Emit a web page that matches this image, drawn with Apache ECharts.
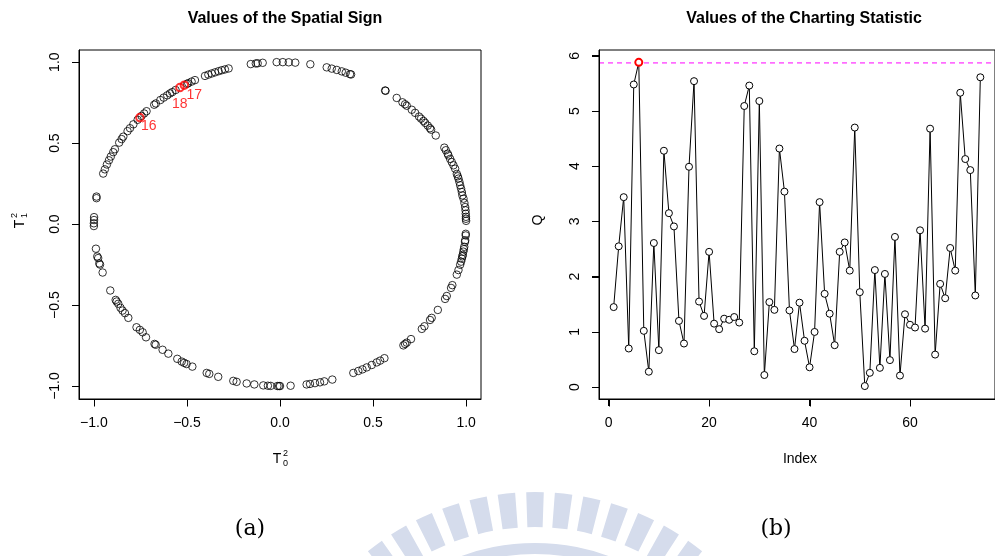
<!DOCTYPE html>
<html>
<head>
<meta charset="utf-8">
<script src="https://cdn.jsdelivr.net/npm/echarts@6/dist/echarts.min.js"></script>
<style>
html,body{margin:0;padding:0;background:#fff;}
#c{width:995px;height:556px;}
</style>
</head>
<body>
<div id="c"></div>
<script>
// ---- Panel (a): spatial sign values ----
const signX = [-0.986,-0.986,-0.999,-0.999,-1.0,-1.0,-0.989,-0.982,-0.977,-0.971,-0.967,-0.953,-0.912,-0.883,-0.878,-0.869,-0.857,-0.846,-0.833,-0.815,-0.771,-0.753,-0.738,-0.72,-0.674,-0.668,-0.631,-0.6,-0.552,-0.528,-0.515,-0.502,-0.471,-0.394,-0.38,-0.332,-0.251,-0.233,-0.179,-0.138,-0.09,-0.065,-0.05,-0.014,-0.005,0.0,0.057,0.143,0.161,0.188,0.215,0.238,0.281,0.394,0.421,0.443,0.466,0.493,0.52,0.538,0.561,0.663,0.672,0.681,0.704,0.762,0.776,0.806,0.815,0.848,0.887,0.896,0.919,0.926,0.95,0.959,0.968,0.973,0.977,0.98,0.982,0.985,0.988,0.99,0.994,0.995,0.998,0.998,1.0,0.998,0.999,0.999,0.883,0.891,0.901,0.905,0.914,0.923,0.932,0.941,0.95,0.955,0.959,0.964,0.968,0.973,0.977,0.98,0.986,0.991,0.995,0.997,0.627,0.658,0.672,0.681,0.708,0.726,0.747,0.758,0.771,0.78,0.794,0.806,0.812,0.837,0.565,0.567,0.251,0.278,0.305,0.332,0.353,0.376,0.382,0.163,-0.018,0.015,0.047,0.082,-0.157,-0.13,-0.12,-0.093,-0.276,-0.296,-0.313,-0.33,-0.349,-0.367,-0.385,-0.403,-0.457,-0.475,-0.493,-0.5,-0.561,-0.579,-0.591,-0.606,-0.625,-0.643,-0.667,-0.676,-0.717,-0.73,-0.744,-0.765,-0.788,-0.806,-0.819,-0.842,-0.851,-0.864,-0.887,-0.896,-0.909,-0.919,-0.93,-0.941,-0.95];
const signY = [0.17,0.16,0.043,0.025,0.005,-0.012,-0.152,-0.2,-0.21,-0.243,-0.25,-0.299,-0.41,-0.468,-0.478,-0.492,-0.517,-0.534,-0.55,-0.579,-0.637,-0.653,-0.668,-0.699,-0.74,-0.745,-0.776,-0.8,-0.832,-0.849,-0.857,-0.864,-0.88,-0.919,-0.925,-0.943,-0.968,-0.974,-0.984,-0.99,-0.996,-0.998,-0.999,-1.0,-1.0,-1.0,-0.998,-0.99,-0.987,-0.982,-0.977,-0.971,-0.96,-0.919,-0.907,-0.897,-0.885,-0.87,-0.854,-0.843,-0.828,-0.749,-0.74,-0.732,-0.71,-0.647,-0.631,-0.592,-0.579,-0.53,-0.462,-0.444,-0.394,-0.377,-0.312,-0.284,-0.251,-0.232,-0.214,-0.199,-0.19,-0.17,-0.155,-0.14,-0.11,-0.1,-0.07,-0.06,0.02,0.064,0.045,0.033,0.472,0.456,0.435,0.424,0.403,0.383,0.363,0.342,0.31,0.295,0.281,0.26,0.24,0.219,0.198,0.177,0.157,0.13,0.105,0.085,0.779,0.752,0.74,0.731,0.706,0.687,0.664,0.651,0.637,0.625,0.608,0.592,0.583,0.547,0.825,0.823,0.968,0.96,0.952,0.943,0.935,0.926,0.924,0.987,1.0,1.0,0.999,0.997,0.988,0.992,0.993,0.996,0.961,0.955,0.95,0.944,0.937,0.93,0.923,0.915,0.889,0.88,0.87,0.866,0.828,0.815,0.807,0.795,0.781,0.766,0.745,0.737,0.697,0.683,0.668,0.644,0.616,0.592,0.574,0.54,0.525,0.503,0.462,0.444,0.417,0.394,0.368,0.338,0.312];
// highlighted observations
const flaggedLabels = ['16','17','18'];
const flaggedX = [-0.753,-0.514,-0.538];
const flaggedY = [0.658,0.858,0.843];

const xTicksA = [-1.0,-0.5,0.0,0.5,1.0];
const yTicksA = [-1.0,-0.5,0.0,0.5,1.0];

// ---- Panel (b): charting statistic ----
const qValues = [1.45,2.55,3.44,0.70,5.48,5.88,1.02,0.28,2.61,0.67,4.28,3.15,2.91,1.20,0.79,3.99,5.54,1.55,1.29,2.45,1.15,1.05,1.24,1.22,1.27,1.17,5.09,5.46,0.65,5.18,0.22,1.54,1.40,4.32,3.54,1.39,0.69,1.53,0.84,0.36,1.00,3.35,1.69,1.33,0.76,2.45,2.62,2.11,4.70,1.72,0.02,0.26,2.12,0.35,2.05,0.49,2.72,0.21,1.32,1.13,1.08,2.84,1.06,4.68,0.59,1.87,1.61,2.52,2.11,5.33,4.13,3.93,1.66,5.61];
const controlLimit = 5.87;
const alarmIndex = 6;
const xTicksB = [0,20,40,60];
const yTicksB = [0,1,2,3,4,5,6];

// axis extents (R-style 4% padding)
const xRangeA = [-1.08, 1.08], yRangeA = [-1.08, 1.075];
const xRangeB = [-1.92, 76.92], yRangeB = [-0.214, 6.104];

const font = 'Liberation Sans, Arial, Helvetica, sans-serif';
function fmtA(v){ const n = Number(v); return isFinite(n) ? n.toFixed(1).replace('-', '\u2212') : String(v); }
function fmtB(v){ return String(v); }

const chart = echarts.init(document.getElementById('c'), null, {renderer:'canvas'});

const scatterData = signX.map((x,i)=>[x, signY[i]]);
const flaggedData = flaggedX.map((x,i)=>({value:[x, flaggedY[i]], name: flaggedLabels[i]}));
const labelOffsets = [[9,9],[10,10],[0,17]];
const lineData = qValues.map((v,i)=>{
  const idx = i+1;
  if (idx === alarmIndex) return {value:[idx,v], itemStyle:{borderColor:'#ff0000', borderWidth:2}};
  return [idx, v];
});
const limitData = [[xRangeB[0], controlLimit], [xRangeB[1], controlLimit]];

function makeXAxis(gi, r, ticks, fmt){
  return {type:'value', gridIndex:gi, min:r[0], max:r[1], splitLine:{show:false}, zlevel:1, z:50,
    axisLine:{show:true, onZero:false, lineStyle:{color:'#000'}},
    axisTick:{show:true, customValues:ticks.slice(), length:7, lineStyle:{color:'#000'}},
    axisLabel:{margin:17, customValues:ticks.slice(), formatter:fmt, color:'#000', fontFamily:font, fontSize:14}};
}
function makeYAxis(gi, r, ticks, fmt){
  return {type:'value', gridIndex:gi, min:r[0], max:r[1], splitLine:{show:false}, zlevel:1, z:50,
    axisLine:{show:true, onZero:false, lineStyle:{color:'#000'}},
    axisTick:{show:true, customValues:ticks.slice(), length:7, lineStyle:{color:'#000'}},
    axisLabel:{margin:17, rotate:90, customValues:ticks.slice(), formatter:fmt, color:'#000', fontFamily:font, fontSize:14}};
}

const option = {
  animation:false,
  title:[
    {text:'Values of the Spatial Sign', left:280, top:6, textAlign:'center', textStyle:{fontFamily:font, fontSize:16, fontWeight:'bold', color:'#000'}},
    {text:'Values of the Charting Statistic', left:799, top:6, textAlign:'center', textStyle:{fontFamily:font, fontSize:16, fontWeight:'bold', color:'#000'}}
  ],
  grid:[
    {left:79, top:50, width:402, height:349, show:true, borderColor:'#000', borderWidth:1},
    {left:599, top:50, width:401, height:349, show:true, borderColor:'#000', borderWidth:1}
  ],
  xAxis:[
    makeXAxis(0, xRangeA, xTicksA, fmtA),
    makeXAxis(1, xRangeB, xTicksB, fmtB)
  ],
  yAxis:[
    makeYAxis(0, yRangeA, yTicksA, fmtA),
    makeYAxis(1, yRangeB, yTicksB, fmtB)
  ],
  series:[
    {type:'scatter', xAxisIndex:0, yAxisIndex:0, data:scatterData, symbol:'circle', symbolSize:7.5,
     itemStyle:{color:'rgba(0,0,0,0)', borderColor:'#000', borderWidth:1}, silent:true},
    {type:'scatter', xAxisIndex:0, yAxisIndex:0, data:flaggedData.map((d,i)=>Object.assign({}, d, {label:{show:true, formatter:d.name, position:'inside', offset:labelOffsets[i], color:'#ff0000', fontFamily:font, fontSize:14}})),
     symbol:'circle', symbolSize:7.5, itemStyle:{color:'rgba(0,0,0,0)', borderColor:'#ff0000', borderWidth:2}, silent:true, z:5},
    {type:'line', xAxisIndex:1, yAxisIndex:1, data:limitData, symbol:'none', silent:true, z:1,
     lineStyle:{color:'#ff00ff', type:[5,4], width:1}},
    {type:'line', xAxisIndex:1, yAxisIndex:1, data:lineData, symbol:'circle', symbolSize:7, showAllSymbol:true,
     itemStyle:{color:'#fff', borderColor:'#000', borderWidth:1}, lineStyle:{color:'#000', width:1}, silent:true, z:3}
  ]
};
chart.setOption(option);

// ---- decorations, axis titles, captions ----
function axisTitle(id, x, y, rot, main, sup, sub){
  const children = [{type:'text', x:0, y:0, style:{text:main, font:'14px '+font, fill:'#000', align:'center', verticalAlign:'middle'}}];
  if (sup) children.push({type:'text', x:6, y:-5, style:{text:sup, font:'9px '+font, fill:'#000', align:'left', verticalAlign:'middle'}});
  if (sub) children.push({type:'text', x:6, y:5, style:{text:sub, font:'9px '+font, fill:'#000', align:'left', verticalAlign:'middle'}});
  return {type:'group', id:id, x:x, y:y, rotation:rot, children:children};
}
const graphics = [];
const wcx = 535, wcy = 757;
const step = 6.2*Math.PI/180, half = 1.9*Math.PI/180;
for (let k=-9;k<=9;k++){
  const a = -Math.PI/2 + k*step;
  graphics.push({type:'sector', id:'wm'+(k+9), silent:true, z:-10, shape:{cx:wcx, cy:wcy, r0:230, r:265, startAngle:a-half, endAngle:a+half}, style:{fill:'#d5dcec'}});
}
graphics.push({type:'sector', id:'wmring', silent:true, z:-10, shape:{cx:wcx, cy:wcy, r0:203, r:214, startAngle:-Math.PI, endAngle:0}, style:{fill:'#d5dcec'}});
graphics.push(axisTitle('ylabA', 20, 224, Math.PI/2, 'T', '2', '1'));
graphics.push(axisTitle('xlabA', 277, 459, 0, 'T', '2', '0'));
graphics.push({type:'text', id:'ylabB', x:538, y:220, rotation:Math.PI/2, style:{text:'Q', font:'14px '+font, fill:'#000', align:'center', verticalAlign:'middle'}});
graphics.push({type:'text', id:'xlabB', x:800, y:459, style:{text:'Index', font:'14px '+font, fill:'#000', align:'center', verticalAlign:'middle'}});
graphics.push({type:'text', id:'capA', x:250, y:529, style:{text:'(a)', font:'22px "DejaVu Serif", "Liberation Serif", serif', fill:'#000', align:'center', verticalAlign:'middle'}});
graphics.push({type:'text', id:'capB', x:776, y:529, style:{text:'(b)', font:'22px "DejaVu Serif", "Liberation Serif", serif', fill:'#000', align:'center', verticalAlign:'middle'}});

// outward tick marks positioned through the axes' own scales, on a top layer
function okPt(p){ return p && isFinite(p[0]) && isFinite(p[1]); }
function tickPoint(gi, pt){
  let p = null;
  try { p = chart.convertToPixel({gridIndex:gi}, pt); } catch(e) { p = null; }
  if (!okPt(p)) {
    try { p = chart.convertToPixel({xAxisIndex:gi, yAxisIndex:gi}, pt); } catch(e) { p = null; }
  }
  if (!okPt(p)) {
    try {
      const a = chart.convertToPixel({xAxisIndex:gi}, pt[0]);
      const b = chart.convertToPixel({yAxisIndex:gi}, pt[1]);
      p = [a, b];
    } catch(e) { p = null; }
  }
  return okPt(p) ? p : null;
}
let n = 0;
function addTicks(gi, dir, values, xr, yr){
  values.forEach(v=>{
    const p = tickPoint(gi, dir === 'x' ? [v, yr[0]] : [xr[0], v]);
    if (!p) return;
    const x = Math.round(p[0]) + 0.5, y = Math.round(p[1]) + 0.5;
    const shape = dir === 'x' ? {x1:x, y1:y - 0.5, x2:x, y2:y + 7} : {x1:x - 0.5, y1:y, x2:x - 7.5, y2:y};
    graphics.push({type:'line', id:'tick'+(n++), silent:true, zlevel:2, z:100, shape:shape, style:{stroke:'#000', lineWidth:1}});
  });
}
addTicks(0, 'x', xTicksA, xRangeA, yRangeA);
addTicks(0, 'y', yTicksA, xRangeA, yRangeA);
addTicks(1, 'x', xTicksB, xRangeB, yRangeB);
addTicks(1, 'y', yTicksB, xRangeB, yRangeB);
chart.setOption({graphic: graphics});
</script>
</body>
</html>
